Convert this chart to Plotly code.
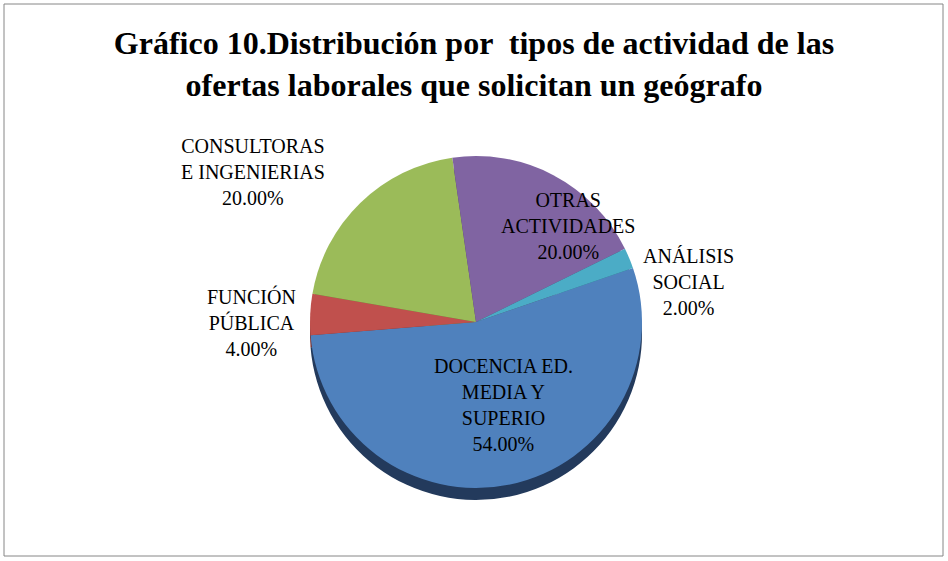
import plotly.graph_objects as go

labels = ["DOCENCIA ED. MEDIA Y SUPERIO", "FUNCIÓN PÚBLICA", "CONSULTORAS E INGENIERIAS",
          "OTRAS ACTIVIDADES", "ANÁLISIS SOCIAL"]
label_text = ["DOCENCIA ED.<br>MEDIA Y<br>SUPERIO", "FUNCIÓN<br>PÚBLICA", "CONSULTORAS<br>E INGENIERIAS",
              "OTRAS<br>ACTIVIDADES", "ANÁLISIS<br>SOCIAL"]
values = [54, 4, 20, 20, 2]
# label centres (pixels) where Excel put them
label_xy = [(503, 405), (252, 322), (253, 172), (568, 226), (688, 282)]

_COLORS = ["#4F81BD", "#C0504D", "#9BBB59", "#8064A2", "#4BACC6"]
_SIDES = ["#233A5C", "#7A2E2C", "#5F7633", "#4B3A63", "#2C6F80"]
_FONT = "Liberation Serif, Times New Roman, serif"

W, H = 948, 561
dom_x = [(476 - 168) / W, (476 + 168) / W]
dom_y = [1 - (322 + 166) / H, 1 - (322 - 166) / H]
depth = 12 / H

fig = go.Figure()
# darker copy underneath, shifted down, to fake the 3D rim
fig.add_trace(go.Pie(
    labels=labels, values=values, sort=False, direction="clockwise", rotation=71,
    marker=dict(colors=_SIDES, line=dict(width=0)), textinfo="none", hoverinfo="skip",
    domain=dict(x=dom_x, y=[dom_y[0] - depth, dom_y[1] - depth]), showlegend=False,
))
fig.add_trace(go.Pie(
    labels=labels, values=values, sort=False, direction="clockwise", rotation=71,
    marker=dict(colors=_COLORS, line=dict(width=0)), textinfo="none",
    domain=dict(x=dom_x, y=dom_y), showlegend=False,
))

total = sum(values)
for i, (px, py) in enumerate(label_xy):
    fig.add_annotation(
        text=f"{label_text[i]}<br>{values[i] / total:.2%}", xref="paper", yref="paper",
        x=px / W, y=1 - py / H, xanchor="center", yanchor="middle", showarrow=False, align="center",
        font=dict(family=_FONT, size=20, color="black"),
    )

fig.update_layout(
    width=W, height=H,
    title=dict(text="<b>Gráfico 10.Distribución por  tipos de actividad de las<br>ofertas laborales que solicitan un geógrafo</b>",
               x=0.5, xanchor="center", y=1 - 54 / H, yanchor="middle",
               font=dict(family=_FONT, size=32, color="black")),
    margin=dict(l=0, r=0, t=0, b=0),
    paper_bgcolor="white", plot_bgcolor="white",
    shapes=[dict(type="rect", xref="paper", yref="paper", x0=4 / W, x1=943 / W, y0=1 - 556 / H, y1=1 - 4 / H,
                 line=dict(color="#868686", width=1), fillcolor="rgba(0,0,0,0)")],
)

fig.write_html("out.html", config={"displayModeBar": False},
               post_script="document.body.style.margin='0';")
